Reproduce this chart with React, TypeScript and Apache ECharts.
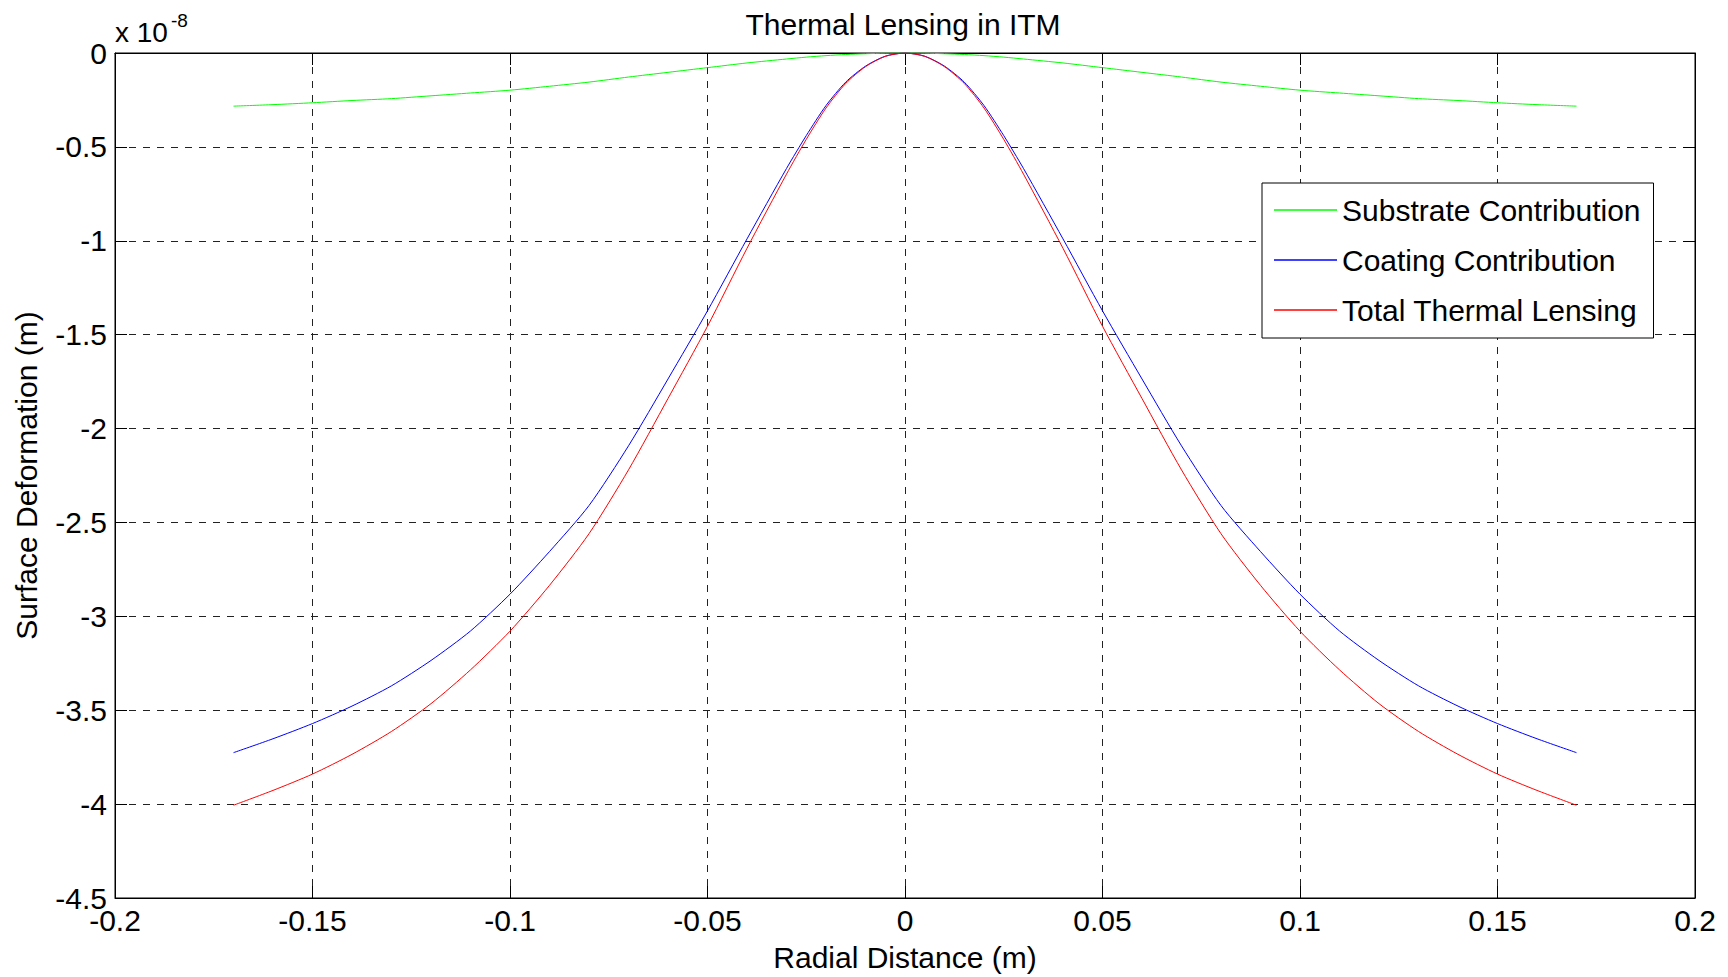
import React, { useEffect, useRef } from "react";
import * as echarts from "echarts";

const radialDistance = [
  -0.17, -0.16, -0.15, -0.14, -0.13, -0.12, -0.11, -0.1, -0.09, -0.08, -0.07, -0.06, -0.05, -0.04, -0.03,
  -0.025, -0.02, -0.015, -0.01, -0.005, 0, 0.005, 0.01, 0.015, 0.02, 0.025, 0.03, 0.04, 0.05, 0.06, 0.07,
  0.08, 0.09, 0.1, 0.11, 0.12, 0.13, 0.14, 0.15, 0.16, 0.17,
];

const substrate = [
  -0.283, -0.275, -0.265, -0.253, -0.243, -0.228, -0.213, -0.198, -0.177, -0.155, -0.128, -0.103, -0.078,
  -0.053, -0.032, -0.022, -0.014, -0.008, -0.004, -0.001, 0, -0.001, -0.004, -0.008, -0.014, -0.022, -0.032,
  -0.053, -0.078, -0.103, -0.128, -0.155, -0.177, -0.198, -0.213, -0.228, -0.243, -0.253, -0.265, -0.275,
  -0.283,
];

const coating = [
  -3.726, -3.652, -3.571, -3.478, -3.37, -3.235, -3.078, -2.882, -2.655, -2.41, -2.092, -1.736, -1.373,
  -0.99, -0.615, -0.44, -0.28, -0.155, -0.07, -0.017, 0, -0.017, -0.07, -0.155, -0.28, -0.44, -0.615, -0.99,
  -1.373, -1.736, -2.092, -2.41, -2.655, -2.882, -3.078, -3.235, -3.37, -3.478, -3.571, -3.652, -3.726,
];

const total = [
  -4.006, -3.927, -3.84, -3.735, -3.613, -3.465, -3.285, -3.079, -2.835, -2.56, -2.22, -1.84, -1.455, -1.04,
  -0.645, -0.46, -0.293, -0.162, -0.073, -0.018, 0, -0.018, -0.073, -0.162, -0.293, -0.46, -0.645, -1.04,
  -1.455, -1.84, -2.22, -2.56, -2.835, -3.079, -3.285, -3.465, -3.613, -3.735, -3.84, -3.927, -4.006,
];

const seriesNames = ["Substrate Contribution", "Coating Contribution", "Total Thermal Lensing"];
const seriesColors = ["#00ff00", "#0000ff", "#ff0000"];

const FONT = "'Liberation Sans', Arial, Helvetica, sans-serif";

const fmt = (v: number) => String(parseFloat(v.toFixed(3)));

export default function App() {
  const ref = useRef<HTMLDivElement>(null);

  useEffect(() => {
    if (!ref.current) return;
    document.body.style.margin = "0";
    document.body.style.overflow = "hidden";
    const chart = echarts.init(ref.current, null, { renderer: "svg" });
    const values = [substrate, coating, total];

    const gridLine = { show: true, lineStyle: { color: "#222", type: [7, 7] as any, width: 1 } };
    const axisLine = { show: true, onZero: false, lineStyle: { color: "#000", width: 1 } };
    const tick = { show: true, inside: true, length: 12, lineStyle: { color: "#000" } };

    chart.setOption({
      animation: false,
      backgroundColor: "#ffffff",
      textStyle: { fontFamily: FONT },
      title: {
        text: "Thermal Lensing in ITM",
        left: 898,
        textAlign: "center",
        top: 4,
        textStyle: { fontFamily: FONT, fontSize: 30, fontWeight: "normal", color: "#000" },
      },
      legend: {
        orient: "vertical",
        left: 1262,
        top: 183,
        padding: [12, 13, 13, 12],
        itemGap: 20,
        itemWidth: 63,
        itemHeight: 1.5,
        icon: "rect",
        backgroundColor: "#fff",
        borderColor: "#000",
        borderWidth: 1,
        borderRadius: 0,
        textStyle: { fontFamily: FONT, fontSize: 30, color: "#000", lineHeight: 30 },
        data: seriesNames.map((n, i) => ({ name: n, icon: "rect", itemStyle: { color: seriesColors[i] } })),
      },
      grid: {
        left: 115,
        top: 53,
        width: 1580,
        height: 853,
        show: true,
        borderColor: "#000",
        borderWidth: 1,
        backgroundColor: "#fff",
        containLabel: false,
      },
      xAxis: [
        {
          type: "value",
          min: -0.2,
          max: 0.2,
          interval: 0.05,
          position: "bottom",
          name: "Radial Distance (m)",
          nameLocation: "middle",
          nameGap: 44,
          nameTextStyle: { fontFamily: FONT, fontSize: 30, color: "#000" },
          axisLine,
          axisTick: tick,
          splitLine: gridLine,
          axisLabel: { formatter: fmt, fontFamily: FONT, fontSize: 30, color: "#000", margin: 7 },
        },
        {
          type: "value",
          min: -0.2,
          max: 0.2,
          interval: 0.05,
          position: "top",
          axisLine,
          axisTick: tick,
          splitLine: { show: false },
          axisLabel: { show: false },
        },
      ],
      yAxis: [
        {
          type: "value",
          min: -4.5,
          max: 0,
          interval: 0.5,
          position: "left",
          name: "Surface Deformation (m)",
          nameLocation: "middle",
          nameGap: 74,
          nameRotate: 90,
          nameTextStyle: { fontFamily: FONT, fontSize: 30, color: "#000" },
          axisLine,
          axisTick: tick,
          splitLine: gridLine,
          axisLabel: { formatter: fmt, fontFamily: FONT, fontSize: 30, color: "#000", margin: 8 },
        },
        {
          type: "value",
          min: -4.5,
          max: 0,
          interval: 0.5,
          position: "right",
          axisLine,
          axisTick: tick,
          splitLine: { show: false },
          axisLabel: { show: false },
        },
      ],
      graphic: [
        {
          type: "text",
          left: 115,
          top: 18,
          style: { text: "x 10", fontFamily: FONT, fontSize: 28, fill: "#000" },
        },
        {
          type: "text",
          left: 171,
          top: 11,
          style: { text: "-8", fontFamily: FONT, fontSize: 19, fill: "#000" },
        },
      ],
      series: seriesNames.map((name, i) => ({
        name,
        type: "line",
        xAxisIndex: 0,
        yAxisIndex: 0,
        symbol: "none",
        smooth: 0.25,
        color: seriesColors[i],
        lineStyle: { color: seriesColors[i], width: 1 },
        data: radialDistance.map((x, j) => [x, values[i][j]]),
      })),
    });

    return () => chart.dispose();
  }, []);

  return (
    <div
      ref={ref}
      style={{ position: "absolute", left: 0, top: 0, width: 1728, height: 977, background: "#fff" }}
    />
  );
}
